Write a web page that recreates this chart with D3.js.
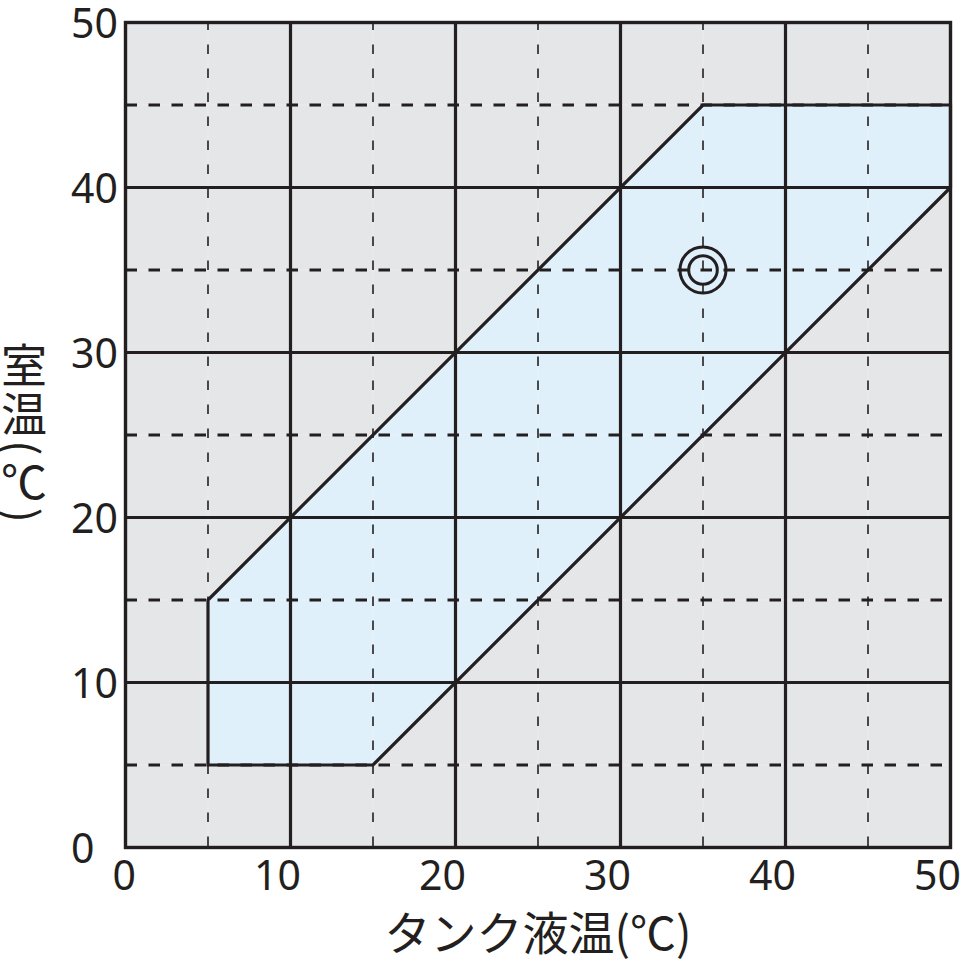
<!DOCTYPE html>
<html>
<head>
<meta charset="utf-8">
<script src="https://cdn.jsdelivr.net/npm/d3@7"></script>
<style>
  html, body { margin: 0; padding: 0; background: #fff; }
  svg { display: block; }
</style>
</head>
<body>
<svg id="chart" width="961" height="963"></svg>
<script>
// operating range (tank liquid temp vs room temp), polygon corners in order
const regionTank = [5, 5, 35, 50, 50, 15];
const regionRoom = [5, 15, 45, 45, 40, 5];

// recommended point (double circle)
const markTank = [35];
const markRoom = [35];

const majorTicks = [0, 10, 20, 30, 40, 50];
const minorTicks = [5, 15, 25, 35, 45];

const xTitle = "タンク液温(℃)";
const yTitle = "室温(℃)";

const svg = d3.select("#chart");

const plot = { left: 125.5, right: 950.5, top: 22.5, bottom: 847.5 };

const scale = {
    x: d3.scaleLinear([0, 50], [plot.left, plot.right]),
    y: d3.scaleLinear([0, 50], [plot.bottom, plot.top]),
};

const ink = "#231f20";

// background
svg.append("rect")
    .attr("x", plot.left).attr("y", plot.top)
    .attr("width", plot.right - plot.left)
    .attr("height", plot.bottom - plot.top)
    .attr("fill", "#e5e6e8");

// region fill
const region = regionTank.map((t, i) => [scale.x(t), scale.y(regionRoom[i])]);
svg.append("polygon")
    .attr("points", region.map(p => p.join(",")).join(" "))
    .attr("fill", "#dff0fa");

// faint light lines under minor grid
const grid = svg.append("g");
grid.selectAll(".faint-v").data(minorTicks).join("line")
    .attr("x1", d => scale.x(d)).attr("x2", d => scale.x(d))
    .attr("y1", plot.top).attr("y2", plot.bottom)
    .attr("stroke", "#ffffff").attr("stroke-opacity", 0.25).attr("stroke-width", 1);
grid.selectAll(".faint-h").data(minorTicks).join("line")
    .attr("y1", d => scale.y(d)).attr("y2", d => scale.y(d))
    .attr("x1", plot.left).attr("x2", plot.right)
    .attr("stroke", "#ffffff").attr("stroke-opacity", 0.25).attr("stroke-width", 1);

// minor dashed lines
grid.selectAll(".minor-v").data(minorTicks).join("line")
    .attr("x1", d => scale.x(d)).attr("x2", d => scale.x(d))
    .attr("y1", plot.top).attr("y2", plot.bottom)
    .attr("stroke", ink).attr("stroke-width", 1.6)
    .attr("stroke-dasharray", "9.5,14.5").attr("stroke-dashoffset", 2);
grid.selectAll(".minor-h").data(minorTicks).join("line")
    .attr("y1", d => scale.y(d)).attr("y2", d => scale.y(d))
    .attr("x1", plot.left).attr("x2", plot.right)
    .attr("stroke", ink).attr("stroke-width", 3)
    .attr("stroke-dasharray", "11.5,11.5");

// major solid lines
grid.selectAll(".major-v").data(majorTicks.slice(1, -1)).join("line")
    .attr("x1", d => scale.x(d)).attr("x2", d => scale.x(d))
    .attr("y1", plot.top).attr("y2", plot.bottom)
    .attr("stroke", ink).attr("stroke-width", 3.2);
grid.selectAll(".major-h").data(majorTicks.slice(1, -1)).join("line")
    .attr("y1", d => scale.y(d)).attr("y2", d => scale.y(d))
    .attr("x1", plot.left).attr("x2", plot.right)
    .attr("stroke", ink).attr("stroke-width", 3.2);

// region outline
svg.append("polygon")
    .attr("points", region.map(p => p.join(",")).join(" "))
    .attr("fill", "none")
    .attr("stroke", ink).attr("stroke-width", 3.2)
    .attr("stroke-linejoin", "miter");

// frame
svg.append("rect")
    .attr("x", plot.left).attr("y", plot.top)
    .attr("width", plot.right - plot.left)
    .attr("height", plot.bottom - plot.top)
    .attr("fill", "none")
    .attr("stroke", ink).attr("stroke-width", 3.4);

// double circle marker
const marks = svg.append("g");
markTank.forEach((t, i) => {
    const cx = scale.x(t), cy = scale.y(markRoom[i]);
    marks.append("circle").attr("cx", cx).attr("cy", cy).attr("r", 23)
        .attr("fill", "none").attr("stroke", ink).attr("stroke-width", 3);
    marks.append("circle").attr("cx", cx).attr("cy", cy).attr("r", 14.3)
        .attr("fill", "none").attr("stroke", ink).attr("stroke-width", 3);
});

// axes (labels only)
const numFont = "'Noto Sans', 'Open Sans', sans-serif";

const xAxis = svg.append("g")
    .attr("transform", `translate(0, ${plot.bottom})`)
    .call(d3.axisBottom(scale.x).tickValues(majorTicks).tickSize(0).tickFormat(d3.format("d")));
xAxis.select(".domain").remove();
xAxis.selectAll("text")
    .attr("font-family", numFont).attr("font-size", 41)
    .attr("fill", ink)
    .attr("text-anchor", "end")
    .attr("x", 10).attr("y", 42).attr("dy", 0);

const yAxis = svg.append("g")
    .call(d3.axisLeft(scale.y).tickValues(majorTicks).tickSize(0).tickFormat(d3.format("d")));
yAxis.select(".domain").remove();
yAxis.selectAll("text")
    .attr("font-family", numFont).attr("font-size", 41)
    .attr("fill", ink)
    .attr("text-anchor", "start")
    .attr("x", 71).attr("dy", "0.36em");

// titles
const cjkFont = "'Noto Sans CJK JP', 'Noto Sans CJK SC', sans-serif";

svg.append("text")
    .attr("x", (plot.left + plot.right) / 2)
    .attr("y", 950)
    .attr("text-anchor", "middle")
    .attr("font-family", cjkFont).attr("font-size", 46)
    .attr("fill", ink)
    .text(xTitle);

// vertical title: CJK upright, brackets turned sideways by the writing mode
svg.append("text")
    .attr("x", 24)
    .attr("y", 434)
    .attr("text-anchor", "middle")
    .style("writing-mode", "vertical-rl")
    .attr("font-family", cjkFont).attr("font-size", 46)
    .attr("letter-spacing", 3)
    .attr("fill", ink)
    .text(yTitle);
</script>
</body>
</html>
